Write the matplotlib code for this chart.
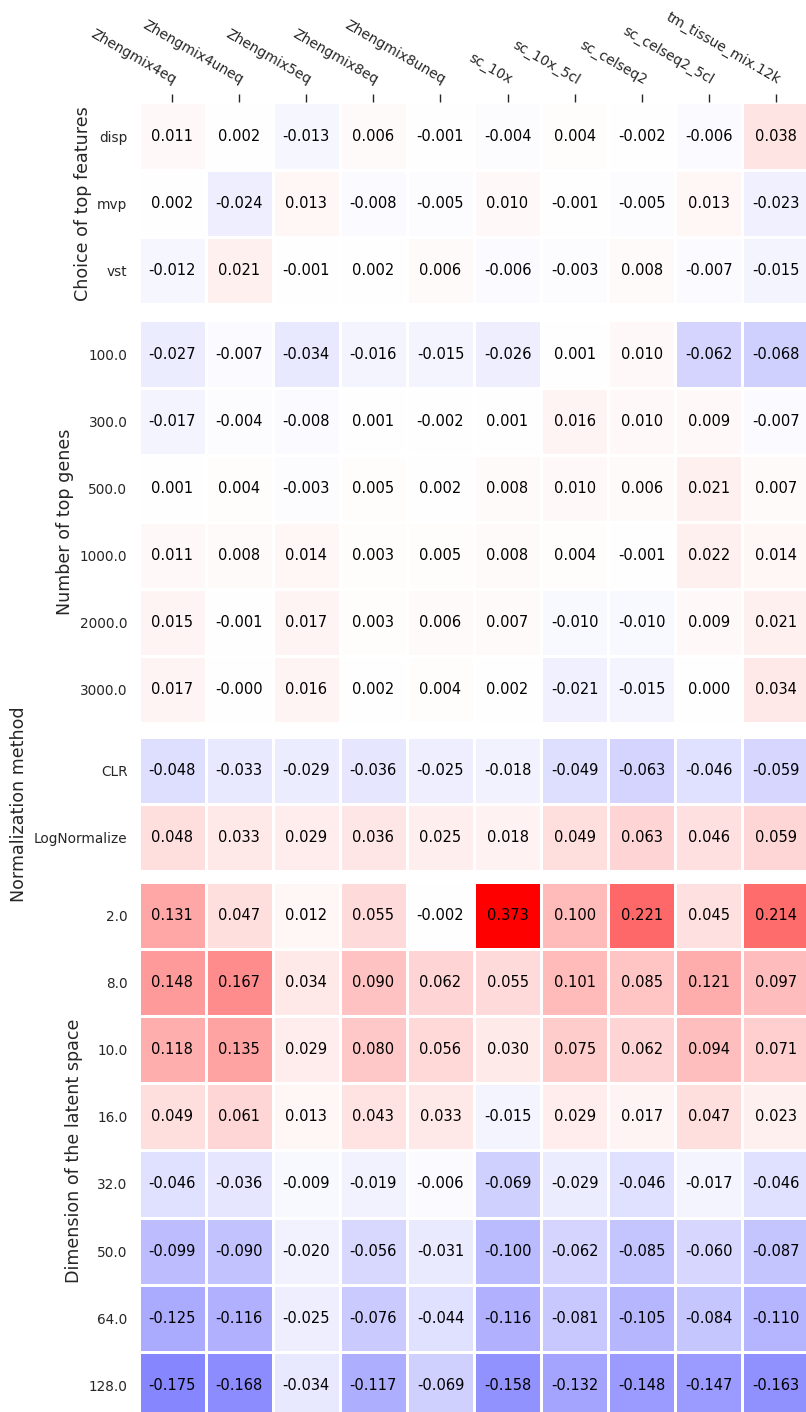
import numpy as np
import matplotlib
matplotlib.use("Agg")
import matplotlib.pyplot as plt

datasets = ["Zhengmix4eq", "Zhengmix4uneq", "Zhengmix5eq", "Zhengmix8eq", "Zhengmix8uneq",
            "sc_10x", "sc_10x_5cl", "sc_celseq2", "sc_celseq2_5cl", "tm_tissue_mix.12k"]

feat_labels = ["disp", "mvp", "vst"]
feat_values = [
    [0.011, 0.002, -0.013, 0.006, -0.001, -0.004, 0.004, -0.002, -0.006, 0.038],
    [0.002, -0.024, 0.013, -0.008, -0.005, 0.010, -0.001, -0.005, 0.013, -0.023],
    [-0.012, 0.021, -0.001, 0.002, 0.006, -0.006, -0.003, 0.008, -0.007, -0.015],
]

genes_labels = ["100.0", "300.0", "500.0", "1000.0", "2000.0", "3000.0"]
genes_values = [
    [-0.027, -0.007, -0.034, -0.016, -0.015, -0.026, 0.001, 0.010, -0.062, -0.068],
    [-0.017, -0.004, -0.008, 0.001, -0.002, 0.001, 0.016, 0.010, 0.009, -0.007],
    [0.001, 0.004, -0.003, 0.005, 0.002, 0.008, 0.010, 0.006, 0.021, 0.007],
    [0.011, 0.008, 0.014, 0.003, 0.005, 0.008, 0.004, -0.001, 0.022, 0.014],
    [0.015, -0.001, 0.017, 0.003, 0.006, 0.007, -0.010, -0.010, 0.009, 0.021],
    [0.017, -0.0002, 0.016, 0.002, 0.004, 0.002, -0.021, -0.015, 0.000, 0.034],
]

norm_labels = ["CLR", "LogNormalize"]
norm_values = [
    [-0.048, -0.033, -0.029, -0.036, -0.025, -0.018, -0.049, -0.063, -0.046, -0.059],
    [0.048, 0.033, 0.029, 0.036, 0.025, 0.018, 0.049, 0.063, 0.046, 0.059],
]

dim_labels = ["2.0", "8.0", "10.0", "16.0", "32.0", "50.0", "64.0", "128.0"]
dim_values = [
    [0.131, 0.047, 0.012, 0.055, -0.002, 0.373, 0.100, 0.221, 0.045, 0.214],
    [0.148, 0.167, 0.034, 0.090, 0.062, 0.055, 0.101, 0.085, 0.121, 0.097],
    [0.118, 0.135, 0.029, 0.080, 0.056, 0.030, 0.075, 0.062, 0.094, 0.071],
    [0.049, 0.061, 0.013, 0.043, 0.033, -0.015, 0.029, 0.017, 0.047, 0.023],
    [-0.046, -0.036, -0.009, -0.019, -0.006, -0.069, -0.029, -0.046, -0.017, -0.046],
    [-0.099, -0.090, -0.020, -0.056, -0.031, -0.100, -0.062, -0.085, -0.060, -0.087],
    [-0.125, -0.116, -0.025, -0.076, -0.044, -0.116, -0.081, -0.105, -0.084, -0.110],
    [-0.175, -0.168, -0.034, -0.117, -0.069, -0.158, -0.132, -0.148, -0.147, -0.163],
]

panels = [
    ("Choice of top features", feat_labels, feat_values),
    ("Number of top genes", genes_labels, genes_values),
    ("Normalization method", norm_labels, norm_values),
    ("Dimension of the latent space", dim_labels, dim_values),
]

W, H = 806, 1412
fig = plt.figure(figsize=(W / 100, H / 100), dpi=100)

allv = np.concatenate([np.ravel(v) for _, _, v in panels])
vmax = np.abs(allv).max()
vmin = -vmax

row_h = 67.1
left_px = 138.5
col_w = 67.1
tops = [102.5, 320.5, 737.0, 882.0]
text_col = "#262626"

for i, (title, labels, values) in enumerate(panels):
    arr = np.array(values)
    nr, nc = arr.shape
    top = tops[i]
    hpx = nr * row_h
    ax = fig.add_axes([left_px / W, 1 - (top + hpx) / H, nc * col_w / W, hpx / H])
    ax.pcolormesh(np.arange(nc + 1), np.arange(nr + 1), arr, cmap="bwr",
                  vmin=vmin, vmax=vmax, edgecolors="white", linewidth=1.0)
    ax.set_xlim(0, nc)
    ax.set_ylim(nr, 0)
    for r in range(nr):
        for c in range(nc):
            ax.text(c + 0.5, r + 0.5, f"{arr[r, c]:.3f}", ha="center", va="center",
                    fontsize=10.5, color="black")
    for s in ax.spines.values():
        s.set_visible(False)
    ax.set_yticks(np.arange(nr) + 0.5)
    ax.set_yticklabels(labels, fontsize=9.8, color=text_col)
    ax.tick_params(axis="y", length=0, pad=8)
    ax.set_ylabel(title, fontsize=12.6, color=text_col)
    if i == 0:
        ax.xaxis.tick_top()
        ax.set_xticks(np.arange(nc) + 0.5)
        ax.set_xticklabels(datasets, fontsize=10, color=text_col, rotation=-30,
                           ha="right", va="bottom", rotation_mode="anchor")
        ax.tick_params(axis="x", length=6, width=1, color=text_col, pad=5)
    else:
        ax.set_xticks([])

fig.savefig("out.png", dpi=100)
